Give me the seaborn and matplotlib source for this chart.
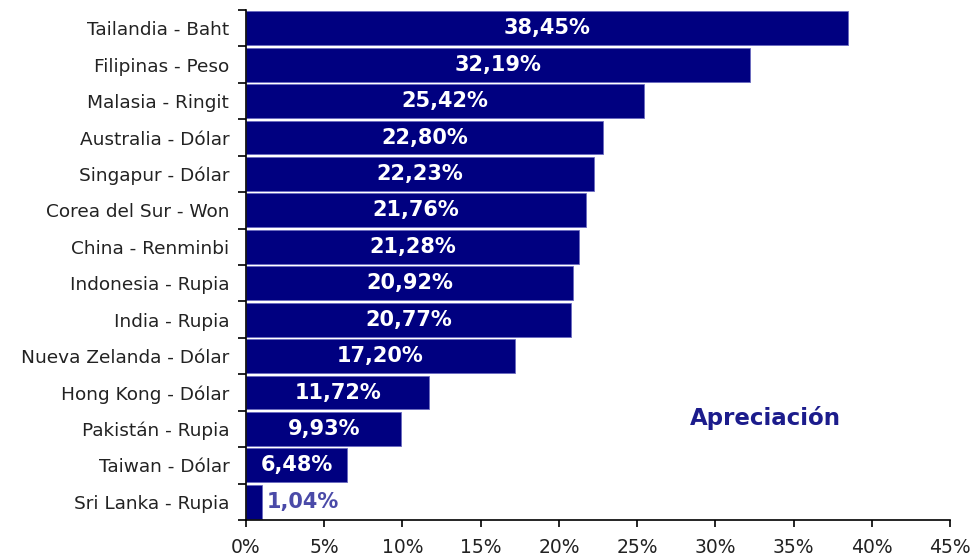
import matplotlib
matplotlib.use("Agg")
import matplotlib.pyplot as plt
import seaborn as sns
import numpy as np
import pandas as pd
from matplotlib.ticker import FixedLocator

categories = ["Tailandia - Baht", "Filipinas - Peso", "Malasia - Ringit", "Australia - Dólar",
              "Singapur - Dólar", "Corea del Sur - Won", "China - Renminbi", "Indonesia - Rupia",
              "India - Rupia", "Nueva Zelanda - Dólar", "Hong Kong - Dólar", "Pakistán - Rupia",
              "Taiwan - Dólar", "Sri Lanka - Rupia"]
values = [38.45, 32.19, 25.42, 22.80, 22.23, 21.76, 21.28, 20.92, 20.77, 17.20, 11.72, 9.93, 6.48, 1.04]
xticks = [0, 5, 10, 15, 20, 25, 30, 35, 40, 45]

sns.set_theme(style="white")
plt.rcParams['font.family'] = ['DejaVu Sans']

df = pd.DataFrame({"cat": categories, "val": values})

fig = plt.figure(figsize=(9.73, 5.56), dpi=100)
ax = fig.add_axes([0.2528, 0.0647, 0.9764 - 0.2528, 0.982 - 0.0647])

sns.barplot(data=df, y="cat", x="val", orient="h", color="#000080", saturation=1,
            width=0.93, edgecolor="#6a6ac0", linewidth=0.6, ax=ax)

ax.set_xlim(0, 45)
ax.set_ylim(len(categories) - 0.5, -0.5)
ax.set_xticks(xticks)
ax.set_xticklabels([f"{t}%" for t in xticks], fontsize=13.5, color="#222222")
ax.set_yticks(range(len(categories)))
ax.set_yticklabels(categories, fontsize=13.3, color="#222222")
ax.tick_params(axis="y", which="major", length=0, pad=12)
ax.yaxis.set_minor_locator(FixedLocator(np.arange(-0.5, len(categories) + 0.5, 1)))
ax.tick_params(axis="y", which="minor", left=True, length=6, width=1.2, color="black")
ax.tick_params(axis="x", which="major", bottom=True, length=5, width=1.2, color="black", pad=8)
ax.set_xlabel("")
ax.set_ylabel("")

for s in ["top", "right"]:
    ax.spines[s].set_visible(False)
for s in ["left", "bottom"]:
    ax.spines[s].set_color("black")
    ax.spines[s].set_linewidth(1.2)

for i, v in enumerate(values):
    label = f"{v:.2f}%".replace(".", ",")
    if v > 3:
        ax.text(v / 2, i, label, ha="center", va="center", color="white",
                fontsize=15, fontweight="bold")
    else:
        ax.text(v + 0.3, i, label, ha="left", va="center", color="#4a4aa8",
                fontsize=15, fontweight="bold")

ax.text(33.2, 10.7, "Apreciación", ha="center", va="center", color="#1c1c8c",
        fontsize=16.5, fontweight="bold")

fig.savefig("out.png", dpi=100)
